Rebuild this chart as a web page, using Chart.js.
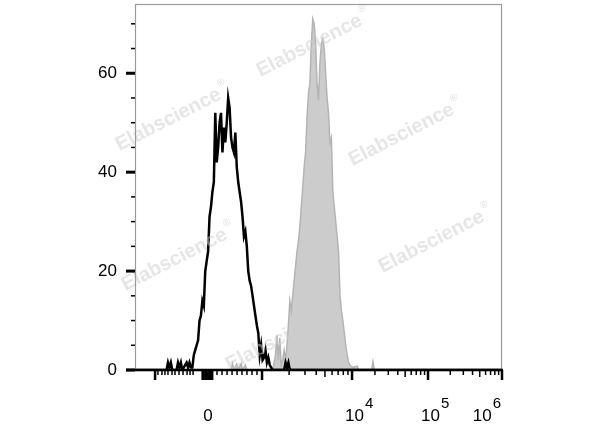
<!DOCTYPE html>
<html>
<head>
<meta charset="utf-8">
<script src="https://cdn.jsdelivr.net/npm/chart.js@4.4.0/dist/chart.umd.min.js"></script>
<style>
  html, body { margin: 0; padding: 0; background: #fff; }
  #wrap { width: 600px; height: 427px; }
</style>
</head>
<body>
<div id="wrap"><canvas id="chart"></canvas></div>
<script>
// histogram data, x in display channels (0..256 on the biexponential axis)
const blackChannels = [0, 22, 23, 24, 25, 26, 29, 30, 31, 32, 33, 36, 37, 38, 39, 40, 41, 42, 44, 45, 46, 47, 48, 49, 50,
  51, 52, 53, 54, 55, 56, 57, 58, 59, 60, 61, 62, 63, 64, 65, 66, 67, 68, 69, 70, 71, 72, 73, 74, 75, 76, 77, 78, 79, 80,
  81, 82, 83, 84, 85, 86, 87, 88, 89, 90, 91, 92, 93, 94, 95, 96, 104, 105, 106, 107, 108, 256];
const blackCounts = [0, 0, 1.5, 0.5, 1.5, 0, 0, 1.5, 0.5, 1.5, 0, 1.5, 0.5, 1.5, 0.5, 0.5, 3, 4, 6, 10, 11, 14, 13, 20, 22,
  24, 31, 33, 36, 38, 52, 42, 45, 50, 52, 44, 49, 46, 50, 55, 53, 47, 45, 44, 48, 41, 38, 36, 34, 31, 27, 28, 25, 20, 18,
  17, 15, 13, 11, 9, 7.5, 3, 5, 2, 2.5, 4, 1.5, 2.5, 1, 0.5, 0, 0, 1.5, 0.5, 1.5, 0, 0];

const grayChannels = [0, 67, 68, 69, 71, 72, 74, 75, 77, 78, 96, 97, 98, 99, 100, 101, 102, 103, 104, 105, 106, 107, 108,
  109, 110, 111, 112, 113, 114, 115, 116, 117, 118, 119, 120, 121, 122, 123, 124, 125, 126, 127, 128, 129, 130, 131, 132,
  133, 134, 135, 136, 137, 138, 139, 140, 141, 142, 143, 144, 145, 146, 147, 148, 149, 150, 152, 155, 156, 165, 166, 167, 256];
const grayCounts = [0, 0, 1.3, 0, 1.2, 0, 1.3, 0, 1, 0, 0, 1.5, 3, 7, 2, 6.5, 1, 2, 4, 2, 5, 9, 14,
  12, 15, 18, 21, 24, 26, 29, 33, 37, 41, 44, 51, 56, 58, 66, 71, 70, 66, 58, 54.5, 62, 66, 67, 65,
  60, 55, 52, 46, 47, 36, 33, 30, 27, 24, 15, 12, 10, 7.5, 5, 3, 1.5, 1, 0.5, 0.8, 0, 0, 1.7, 0, 0];

// axes
const yMax = 74;
const yMajorTicks = [0, 20, 40, 60];
const yMinorStep = 5;
// decade anchors on the display axis: -10^3, 0, 10^3, 10^4, 10^5, 10^6
const xDecadeValues = [-1000, 0, 1000, 1e4, 1e5, 1e6];
const xDecadeChannels = [14, 50.2, 88.6, 151.4, 204.4, 256];
const xNegMinorChannels = [16, 18.8, 20.9, 23, 25.8, 27.9, 30.7, 33.5, 36.3, 38.4, 40.5];
const xZeroMinorChannels = [47, 48, 49, 50, 51, 52, 53, 54];
const xLinMinorChannels = [57.2, 60.7, 64.2, 67.7, 71.2, 74.6, 78.1, 81.6, 85.1];
const xLabelChannels = [50.2, 151.4, 204.4, 256];
const xLabelBase = ['0', '10', '10', '10'];
const xLabelExp = ['', '4', '5', '6'];

const wmPositions = [[172, 118], [313, 44], [405, 133], [435, 240], [178, 258], [282, 338]];

function toPoints(xs, ys) {
  return xs.map((x, i) => ({ x: x, y: ys[i] }));
}

const axisPlugin = {
  id: 'flowAxes',
  afterDatasetsDraw(chart) {
    const ctx = chart.ctx;
    const a = chart.chartArea;
    const xs = chart.scales.x;
    const ys = chart.scales.y;

    // watermark
    ctx.save();
    ctx.fillStyle = 'rgba(205,205,205,0.5)';
    wmPositions.forEach(p => {
      ctx.save();
      ctx.translate(p[0], p[1]);
      ctx.rotate(-27 * Math.PI / 180);
      ctx.font = 'bold 20px "Liberation Sans", Arial, sans-serif';
      ctx.textBaseline = 'middle';
      const w = ctx.measureText('Elabscience').width;
      ctx.fillText('Elabscience', -w / 2 - 4, 0);
      ctx.font = 'bold 10px "Liberation Sans", Arial, sans-serif';
      ctx.fillText('®', w / 2 - 2, -9);
      ctx.restore();
    });
    ctx.restore();

    // frame
    ctx.save();
    ctx.strokeStyle = '#9a9a9a';
    ctx.lineWidth = 1.2;
    ctx.strokeRect(a.left + 0.5, a.top + 0.5, a.right - a.left - 1, a.bottom - a.top);
    ctx.restore();

    // y ticks
    ctx.save();
    ctx.strokeStyle = '#000';
    for (let v = 0; v < yMax; v += yMinorStep) {
      const py = ys.getPixelForValue(v);
      const major = yMajorTicks.includes(v);
      ctx.lineWidth = major ? 3 : 1.5;
      ctx.beginPath();
      ctx.moveTo(a.left - (major ? 9 : 4), py);
      ctx.lineTo(a.left, py);
      ctx.stroke();
    }

    // x axis line
    ctx.lineWidth = 2.5;
    ctx.beginPath();
    ctx.moveTo(a.left - 9, a.bottom);
    ctx.lineTo(a.right + 1, a.bottom);
    ctx.stroke();

    // x ticks
    const tick = (ch, len, w) => {
      const px = xs.getPixelForValue(ch);
      ctx.lineWidth = w;
      ctx.beginPath();
      ctx.moveTo(px, a.bottom);
      ctx.lineTo(px, a.bottom + len);
      ctx.stroke();
    };
    xDecadeChannels.forEach((ch, i) => { if (xDecadeValues[i] !== 0) tick(ch, 10, 2.5); });
    xNegMinorChannels.forEach(ch => tick(ch, 5, 1.5));
    xZeroMinorChannels.forEach(ch => tick(ch, 10, 2));
    xLinMinorChannels.forEach(ch => tick(ch, 5, 1.5));
    for (let d = 2; d < 5; d++) {
      const c0 = xDecadeChannels[d], c1 = xDecadeChannels[d + 1];
      for (let m = 2; m <= 9; m++) {
        tick(c0 + (c1 - c0) * Math.log10(m), m === 5 ? 7 : 5, 1.5);
      }
    }

    // x labels
    ctx.fillStyle = '#000';
    ctx.textBaseline = 'alphabetic';
    xLabelChannels.forEach((ch, i) => {
      const px = xs.getPixelForValue(ch);
      ctx.font = '17px "Liberation Sans", Arial, sans-serif';
      const wb = ctx.measureText(xLabelBase[i]).width;
      if (!xLabelExp[i]) {
        ctx.textAlign = 'center';
        ctx.fillText(xLabelBase[i], px + 1, 421);
        return;
      }
      ctx.font = '15px "Liberation Sans", Arial, sans-serif';
      const we = ctx.measureText(xLabelExp[i]).width;
      const x0 = Math.min(px - 7, a.right - 1 - wb - we - 1);
      ctx.textAlign = 'left';
      ctx.font = '17px "Liberation Sans", Arial, sans-serif';
      ctx.fillText(xLabelBase[i], x0, 421);
      ctx.font = '15px "Liberation Sans", Arial, sans-serif';
      ctx.fillText(xLabelExp[i], x0 + wb + 1, 408);
    });
    ctx.restore();
  }
};

function fixPadding(s) {
  s.paddingTop = 0;
  s.paddingBottom = 0;
  s.paddingLeft = 0;
  s.paddingRight = 0;
}

new Chart(document.getElementById('chart'), {
  type: 'line',
  data: {
    datasets: [
      {
        data: toPoints(blackChannels, blackCounts),
        borderColor: '#000',
        borderWidth: 2.5,
        fill: false,
        pointRadius: 0,
        tension: 0
      },
      {
        data: toPoints(grayChannels, grayCounts),
        borderColor: '#b4b4b4',
        backgroundColor: '#cccccc',
        borderWidth: 1.5,
        fill: 'origin',
        pointRadius: 0,
        tension: 0
      }
    ]
  },
  options: {
    responsive: true,
    maintainAspectRatio: false,
    animation: false,
    layout: { padding: { top: 4, right: 98, left: 0, bottom: 0 } },
    plugins: { legend: { display: false }, tooltip: { enabled: false } },
    scales: {
      x: {
        type: 'linear',
        min: 0,
        max: 256,
        grid: { display: false },
        border: { display: false },
        ticks: { display: false },
        afterFit: s => { s.height = 57; fixPadding(s); }
      },
      y: {
        min: 0,
        max: yMax,
        grid: { display: false, drawTicks: false },
        border: { display: false },
        afterBuildTicks: s => { s.ticks = yMajorTicks.map(v => ({ value: v })); },
        ticks: {
          padding: 18,
          color: '#000',
          font: { size: 17, family: '"Liberation Sans", Arial, sans-serif' }
        },
        afterFit: s => { s.width = 135; fixPadding(s); }
      }
    }
  },
  plugins: [axisPlugin]
});
</script>
</body>
</html>
